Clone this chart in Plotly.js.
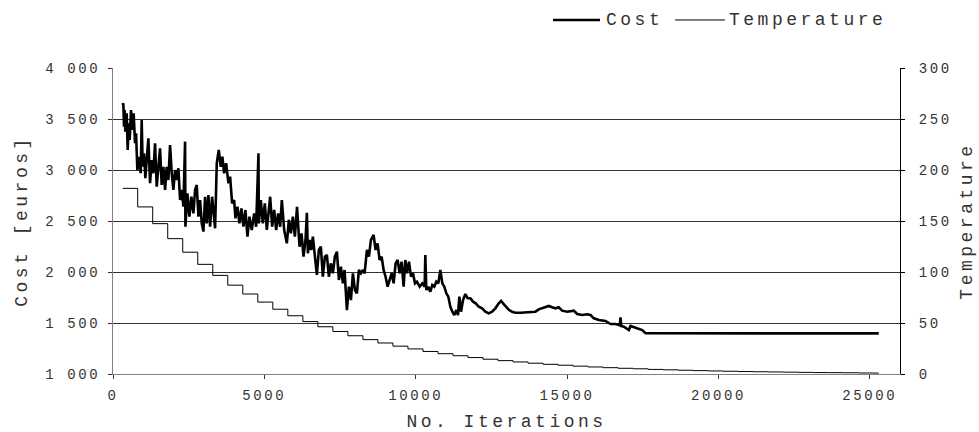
<!DOCTYPE html>
<html>
<head>
<meta charset="utf-8">
<script src="https://cdn.plot.ly/plotly-3.0.1.min.js"></script>
<style>
  html, body { margin: 0; padding: 0; background: #fff; }
  #chart { width: 979px; height: 432px; }
  .xtick text, .ytick text, .y2tick text { letter-spacing: 2.6px; }
  .xtitle, .ytitle, .y2title, .annotation-text { letter-spacing: 3.5px; }
</style>
</head>
<body>
<div id="chart"></div>
<script>
// ---- Data ----
const costIter = [320,341,364,386,408,452,485,518,551,595,639,683,728,761,805,871,915,948,981,1025,1069,1113,1169,1224,1279,1334,1389,1444,1499,1554,1609,1664,1720,1775,1830,1885,1940,1995,2050,2105,2160,2216,2271,2326,2381,2392,2458,2524,2590,2656,2712,2767,2822,2877,2932,2987,3042,3097,3152,3208,3274,3373,3428,3494,3560,3615,3671,3737,3814,3869,3935,4001,4045,4111,4177,4243,4309,4375,4442,4508,4585,4663,4729,4806,4817,4883,4949,5016,5082,5148,5192,5258,5324,5390,5457,5523,5578,5655,5744,5810,5876,5942,6008,6040,6080,6162,6228,6294,6360,6405,6438,6493,6548,6603,6669,6735,6801,6867,6933,7000,7066,7132,7198,7264,7330,7397,7463,7529,7595,7650,7727,7793,7860,7926,7992,8058,8124,8191,8257,8312,8389,8455,8521,8609,8675,8741,8808,8874,8940,9006,9072,9139,9205,9271,9337,9403,9469,9535,9601,9657,9712,9778,9845,9911,9977,10043,10131,10219,10296,10318,10351,10417,10483,10549,10615,10682,10748,10814,10880,10946,11012,11078,11145,11211,11277,11343,11398,11442,11498,11564,11641,11718,11806,11894,11983,12082,12192,12302,12412,12523,12633,12743,12821,12908,12997,13085,13185,13294,13459,13625,13790,13956,14065,14253,14396,14507,14617,14727,14838,15004,15136,15224,15335,15500,15665,15775,15886,16051,16271,16436,16601,16744,16767,16789,16877,16965,17042,17097,17207,17318,17483,17593,25298];
const costValue = [3637,3654,3425,3588,3376,3556,3196,3458,3294,3588,3392,3556,3262,3360,3000,3130,2968,3490,3032,3164,2919,3130,3311,2870,3098,2968,3262,2837,3066,3213,2853,3032,2804,3032,2902,3245,2968,2804,3000,2902,3017,2706,2804,2640,3278,2444,2771,2542,2738,2575,2804,2853,2542,2706,2477,2396,2738,2477,2755,2444,2738,2428,3066,3196,3032,3130,2968,3066,2870,2935,2673,2706,2526,2640,2477,2624,2444,2608,2346,2542,2412,2575,2444,3164,2477,2706,2477,2673,2412,2657,2738,2444,2608,2412,2575,2444,2706,2412,2281,2510,2379,2542,2346,2477,2640,2248,2379,2150,2314,2581,2183,2314,2216,2346,2150,1971,2216,2248,1954,2150,2167,1954,2085,1987,2150,2199,1922,2052,1889,2020,1627,1856,1725,1987,1824,1791,2020,1987,2020,1987,2216,2150,2314,2363,2216,2281,2118,2150,2020,1954,1856,1922,1987,1889,2085,2118,1987,2101,1856,2118,1987,2101,1954,1987,1889,1905,1856,1889,1856,2167,1824,1856,1807,1873,1856,1905,1889,2020,1889,1856,1791,1758,1660,1611,1578,1627,1578,1758,1611,1725,1784,1742,1742,1709,1693,1660,1644,1611,1595,1611,1644,1693,1716,1686,1660,1627,1611,1601,1601,1605,1605,1611,1634,1654,1667,1654,1644,1654,1621,1611,1618,1621,1588,1578,1585,1578,1546,1529,1520,1490,1490,1477,1556,1471,1464,1444,1431,1471,1458,1444,1431,1399,1398];

const tempIter = [320,816,1312,1808,2304,2800,3296,3792,4288,4784,5280,5776,6272,6768,7264,7760,8256,8752,9248,9744,10240,10736,11232,11728,12224,12720,13216,13712,14208,14704,15200,15696,16192,16688,17184,17680,18176,18672,19168,19664,20160,20656,21152,21648,22144,22640,23136,23632,24128,24624,25120,25298];
const tempValue = [182,163.8,147.4,132.7,119.4,107.5,96.7,87.1,78.4,70.5,63.5,57.1,51.4,46.3,41.7,37.5,33.7,30.4,27.3,24.6,22.1,19.9,17.9,16.1,14.5,13.1,11.8,10.6,9.5,8.6,7.7,6.9,6.2,5.6,5.1,4.5,4.1,3.7,3.3,3.0,2.7,2.4,2.2,2.0,1.8,1.6,1.4,1.3,1.2,1.0,0.9,0.9];

const seriesNames = ['Cost', 'Temperature'];
const xTickVals = [0,5000,10000,15000,20000,25000];
const xTickText = ['0','5000','10000','15000','20000','25000'];
const costTickVals = [1000,1500,2000,2500,3000,3500,4000];
const costTickText = ['1 000','1 500','2 000','2 500','3 000','3 500','4 000'];
const tempTickVals = [0,50,100,150,200,250,300];
const tempTickText = ['0','50','100','150','200','250','300'];

const FONT = '"Liberation Mono", "Courier New", monospace';
const TXT = '#333';

const traces = [
  { x: costIter, y: costValue, name: seriesNames[0], type: 'scatter', mode: 'lines',
    line: { color: '#000', width: 2.6 }, yaxis: 'y', hoverinfo: 'skip' },
  { x: tempIter, y: tempValue, name: seriesNames[1], type: 'scatter', mode: 'lines',
    line: { color: '#000', width: 1, shape: 'hv' }, yaxis: 'y2', hoverinfo: 'skip' }
];

// Legend drawn as paper-positioned line samples + labels (top right, above the plot)
const legY = 1.157;
const layout = {
  width: 979, height: 432,
  margin: { l: 113, r: 79, t: 68, b: 58, autoexpand: false },
  paper_bgcolor: '#fff', plot_bgcolor: '#fff',
  font: { family: FONT, size: 14, color: TXT },
  showlegend: false,
  shapes: [
    { type: 'line', xref: 'paper', yref: 'paper', x0: 0.5591, x1: 0.6188, y0: legY, y1: legY,
      line: { color: '#000', width: 2.6 } },
    { type: 'line', xref: 'paper', yref: 'paper', x0: 0.7141, x1: 0.7776, y0: legY, y1: legY,
      line: { color: '#000', width: 1 } }
  ],
  annotations: [
    { text: seriesNames[0], xref: 'paper', yref: 'paper', x: 0.6252, y: legY, xanchor: 'left', yanchor: 'middle',
      showarrow: false, borderpad: 0, font: { family: FONT, size: 18, color: TXT } },
    { text: seriesNames[1], xref: 'paper', yref: 'paper', x: 0.7815, y: legY, xanchor: 'left', yanchor: 'middle',
      showarrow: false, borderpad: 0, font: { family: FONT, size: 18, color: TXT } }
  ],
  xaxis: {
    range: [0, 26000], tickvals: xTickVals, ticktext: xTickText,
    ticks: 'outside', ticklen: 4, tickcolor: '#333', ticklabelstandoff: 4,
    showline: true, linecolor: '#808080', linewidth: 1,
    showgrid: false, zeroline: false,
    title: { text: 'No. Iterations', font: { family: FONT, size: 18, color: TXT }, standoff: 12 }
  },
  yaxis: {
    range: [1000, 4000], tickvals: costTickVals, ticktext: costTickText,
    ticks: 'outside', ticklen: 4, tickcolor: '#333', ticklabelstandoff: 5,
    showline: true, linecolor: '#808080', linewidth: 1,
    showgrid: true, gridcolor: '#333', gridwidth: 1, zeroline: false,
    title: { text: 'Cost [euros]', font: { family: FONT, size: 18, color: TXT }, standoff: 12 }
  },
  yaxis2: {
    overlaying: 'y', side: 'right',
    range: [0, 300], tickvals: tempTickVals, ticktext: tempTickText,
    ticks: 'outside', ticklen: 4, tickcolor: '#000', ticklabelstandoff: 11,
    showline: true, linecolor: '#000', linewidth: 1,
    showgrid: false, zeroline: false,
    title: { text: 'Temperature', font: { family: FONT, size: 18, color: TXT }, standoff: 8 }
  }
};

Plotly.newPlot('chart', traces, layout, { staticPlot: true, displayModeBar: false });
</script>
</body>
</html>
